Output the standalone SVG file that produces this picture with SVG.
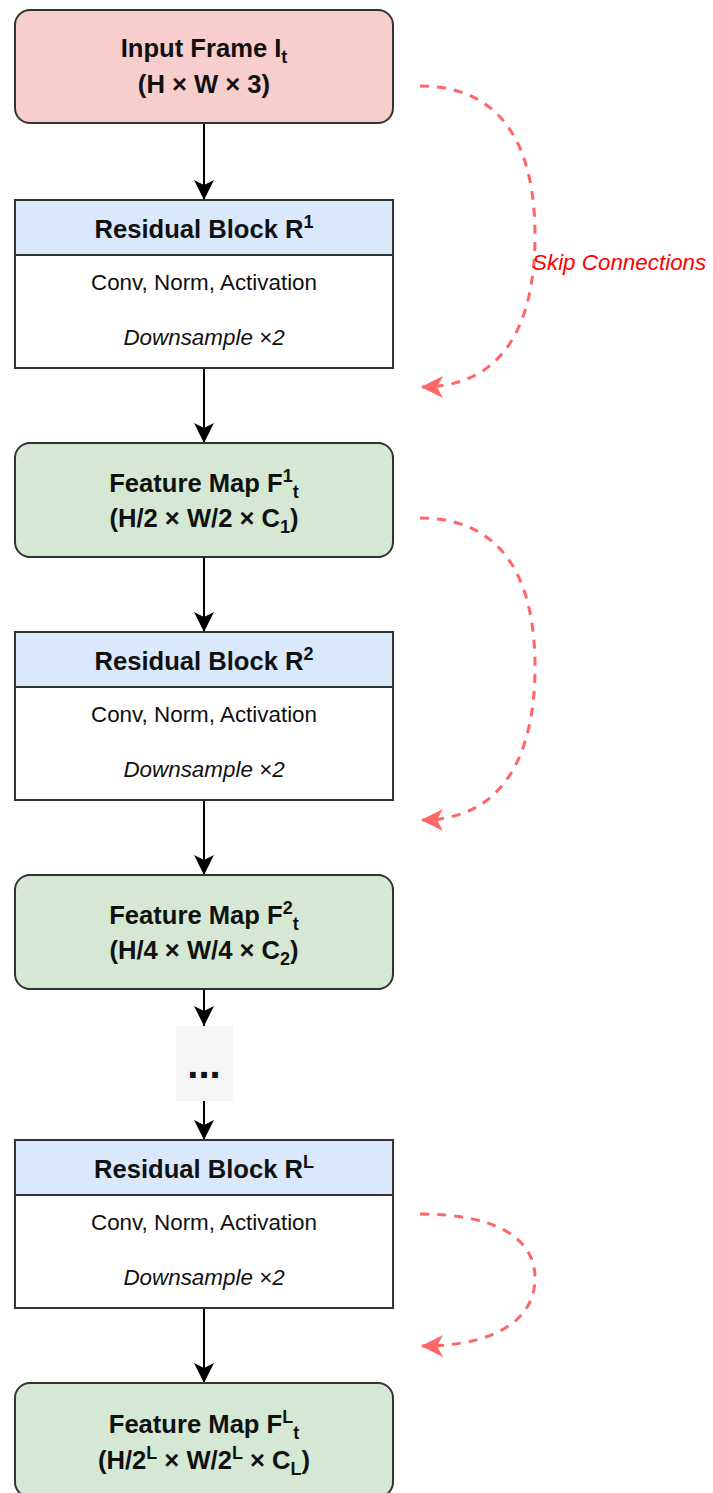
<svg xmlns="http://www.w3.org/2000/svg" width="713" height="1493" viewBox="0 0 713 1493">
<style>
.box{stroke:#333333;stroke-width:2}
.input{fill:#f8cecc}
.feat{fill:#d5e8d4}
.hdr{fill:#dae8fc}
.body{fill:#ffffff}
.t{font-family:"Liberation Sans",Arial,sans-serif;fill:#111111;text-anchor:middle}
.b{font-weight:bold;font-size:25.6px}
.r{font-size:22.4px}
.i{font-style:italic;font-size:22.4px}
.flow{stroke:#000000;stroke-width:2;fill:none;marker-end:url(#ab)}
.skip{stroke:#ff6666;stroke-width:3;fill:none;stroke-dasharray:9 8;marker-end:url(#ar)}
</style>
<defs>
<marker id="ab" markerUnits="userSpaceOnUse" markerWidth="20" markerHeight="20" viewBox="0 0 20 20" refX="20" refY="10" orient="auto"><path d="M0,0 L20,10 L0,20 L5,10 z" fill="#000000"/></marker>
<marker id="ar" markerUnits="userSpaceOnUse" markerWidth="22" markerHeight="22" viewBox="0 0 22 22" refX="21" refY="11" orient="auto"><path d="M0,0 L22,11 L0,22 L6,11 z" fill="#ff6666"/></marker>
</defs>
<rect width="713" height="1493" fill="#ffffff"/>

<g id="connectors">
<path class="flow" d="M204,123 L204,200"/>
<path class="flow" d="M204,368 L204,443"/>
<path class="flow" d="M204,557 L204,632"/>
<path class="flow" d="M204,800 L204,875"/>
<path class="flow" d="M204,989 L204,1026"/>
<path class="flow" d="M204,1101 L204,1140"/>
<path class="flow" d="M204,1308 L204,1383"/>
<path class="skip" d="M420,86 C505,86 535,150 535,236 C535,322 505,387 422,387"/>
<path class="skip" d="M420,518 C505,518 535,582 535,667 C535,752 505,820 422,820"/>
<path class="skip" d="M420,1214 C490,1214 535,1235 535,1278 C535,1320 495,1346 422,1346"/>
<text x="532" y="270" font-family="Liberation Sans, Arial, sans-serif" font-style="italic" font-size="22.4" fill="#ff0000">Skip Connections</text>
</g>

<g id="input">
<rect class="box input" x="15" y="10" width="378" height="113" rx="15"/>
<text class="t b" x="204" y="57">Input Frame I<tspan font-size="18" dy="6">t</tspan></text>
<text class="t b" x="204" y="93">(H × W × 3)</text>
</g>

<g id="res1">
<rect class="box hdr" x="15" y="200" width="378" height="55"/>
<rect class="box body" x="15" y="255" width="378" height="113"/>
<text class="t b" x="204" y="238">Residual Block R<tspan font-size="18" dy="-10">1</tspan></text>
<text class="t r" x="204" y="290">Conv, Norm, Activation</text>
<text class="t i" x="204" y="345">Downsample ×2</text>
</g>

<g id="feat1">
<rect class="box feat" x="15" y="443" width="378" height="114" rx="15"/>
<text class="t b" x="204" y="492">Feature Map F<tspan font-size="18" dy="-10">1</tspan><tspan font-size="18" dy="16">t</tspan></text>
<text class="t b" x="204" y="527">(H/2 × W/2 × C<tspan font-size="18" dy="6">1</tspan><tspan dy="-6">)</tspan></text>
</g>

<g id="res2">
<rect class="box hdr" x="15" y="632" width="378" height="55"/>
<rect class="box body" x="15" y="687" width="378" height="113"/>
<text class="t b" x="204" y="670">Residual Block R<tspan font-size="18" dy="-10">2</tspan></text>
<text class="t r" x="204" y="722">Conv, Norm, Activation</text>
<text class="t i" x="204" y="777">Downsample ×2</text>
</g>

<g id="feat2">
<rect class="box feat" x="15" y="875" width="378" height="114" rx="15"/>
<text class="t b" x="204" y="924">Feature Map F<tspan font-size="18" dy="-10">2</tspan><tspan font-size="18" dy="16">t</tspan></text>
<text class="t b" x="204" y="959">(H/4 × W/4 × C<tspan font-size="18" dy="6">2</tspan><tspan dy="-6">)</tspan></text>
</g>

<g id="ellipsis">
<rect x="176" y="1026" width="57" height="75" fill="#f5f5f5"/>
<text class="t" x="204" y="1078" font-weight="bold" font-size="40">...</text>
</g>

<g id="resL">
<rect class="box hdr" x="15" y="1140" width="378" height="55"/>
<rect class="box body" x="15" y="1195" width="378" height="113"/>
<text class="t b" x="204" y="1178">Residual Block R<tspan font-size="18" dy="-10">L</tspan></text>
<text class="t r" x="204" y="1230">Conv, Norm, Activation</text>
<text class="t i" x="204" y="1285">Downsample ×2</text>
</g>

<g id="featL">
<rect class="box feat" x="15" y="1383" width="378" height="114" rx="15"/>
<text class="t b" x="204" y="1433">Feature Map F<tspan font-size="18" dy="-10">L</tspan><tspan font-size="18" dy="16">t</tspan></text>
<text class="t b" x="204" y="1469">(H/2<tspan font-size="18" dy="-10">L</tspan><tspan dy="10"> × W/2</tspan><tspan font-size="18" dy="-10">L</tspan><tspan dy="10"> × C</tspan><tspan font-size="18" dy="6">L</tspan><tspan dy="-6">)</tspan></text>
</g>
</svg>
